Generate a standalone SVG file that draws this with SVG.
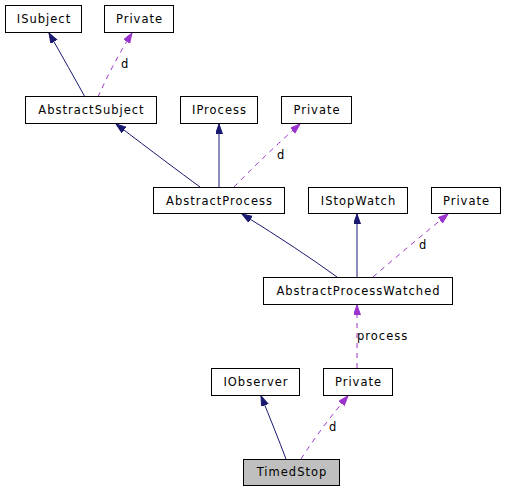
<svg xmlns="http://www.w3.org/2000/svg" width="505" height="491" viewBox="0 0 505 491">
<defs>
<style>
.box{fill:#ffffff;stroke:#000000;stroke-width:1}
.cur{fill:#bfbfbf;stroke:#000000;stroke-width:1}
text{font-family:"DejaVu Sans","Liberation Sans",sans-serif;font-size:11.5px;letter-spacing:1px;fill:#000000}
.t{text-anchor:middle}
.inh{fill:none;stroke:#191970;stroke-width:1}
.use{fill:none;stroke:#9a32cd;stroke-width:1;stroke-dasharray:5,5}
</style>
<marker id="ah" markerUnits="userSpaceOnUse" markerWidth="11" markerHeight="8" refX="10" refY="3.5" orient="auto">
<path d="M0,0 L10,3.5 L0,7 z" fill="#191970" stroke="#191970"/>
</marker>
<marker id="ap" markerUnits="userSpaceOnUse" markerWidth="11" markerHeight="8" refX="10" refY="3.5" orient="auto">
<path d="M0,0 L10,3.5 L0,7 z" fill="#9a32cd" stroke="#9a32cd"/>
</marker>
</defs>
<rect width="505" height="491" fill="#ffffff"/>
<g id="connectors">
<path class="inh" d="M85,97 Q70,70 49,33" marker-end="url(#ah)"/>
<path class="use" d="M98,97 Q112,65 132,33" marker-end="url(#ap)"/>
<text x="121" y="68">d</text>
<path class="inh" d="M200,187 Q170,165 116,124" marker-end="url(#ah)"/>
<path class="inh" d="M219,187 L219,124" marker-end="url(#ah)"/>
<path class="use" d="M234,187 Q265,155 300,124" marker-end="url(#ap)"/>
<text x="277" y="159">d</text>
<path class="inh" d="M337,277 Q300,250 242,214" marker-end="url(#ah)"/>
<path class="inh" d="M357,277 L357,214" marker-end="url(#ah)"/>
<path class="use" d="M373,277 Q410,245 448,214" marker-end="url(#ap)"/>
<text x="419" y="249">d</text>
<path class="use" d="M357,368 L357,305" marker-end="url(#ap)"/>
<text x="357" y="340">process</text>
<path class="inh" d="M286,459 Q275,430 261,396" marker-end="url(#ah)"/>
<path class="use" d="M301,459 Q323,425 348,396" marker-end="url(#ap)"/>
<text x="329" y="431">d</text>
</g>
<g id="ISubject"><rect class="box" x="5.5" y="5.5" width="76" height="27"/><text class="t" x="44" y="22.5">ISubject</text></g>
<g id="Private1"><rect class="box" x="104.5" y="5.5" width="69" height="27"/><text class="t" x="139.5" y="22.5">Private</text></g>
<g id="AbstractSubject"><rect class="box" x="25.5" y="96.5" width="131" height="27"/><text class="t" x="91.5" y="113.5">AbstractSubject</text></g>
<g id="IProcess"><rect class="box" x="180.5" y="96.5" width="77" height="27"/><text class="t" x="219.5" y="113.5">IProcess</text></g>
<g id="Private2"><rect class="box" x="281.5" y="96.5" width="70" height="27"/><text class="t" x="317" y="113.5">Private</text></g>
<g id="AbstractProcess"><rect class="box" x="153.5" y="187.5" width="131" height="26"/><text class="t" x="219.5" y="204.5">AbstractProcess</text></g>
<g id="IStopWatch"><rect class="box" x="308.5" y="187.5" width="99" height="26"/><text class="t" x="358.5" y="204.5">IStopWatch</text></g>
<g id="Private3"><rect class="box" x="431.5" y="187.5" width="69" height="26"/><text class="t" x="466.5" y="204.5">Private</text></g>
<g id="AbstractProcessWatched"><rect class="box" x="263.5" y="277.5" width="189" height="27"/><text class="t" x="358.5" y="295">AbstractProcessWatched</text></g>
<g id="IObserver"><rect class="box" x="211.5" y="368.5" width="88" height="27"/><text class="t" x="256" y="385.5">IObserver</text></g>
<g id="Private4"><rect class="box" x="323.5" y="368.5" width="69" height="27"/><text class="t" x="358.5" y="385.5">Private</text></g>
<g id="TimedStop"><rect class="cur" x="243.5" y="459.5" width="96" height="26"/><text class="t" x="292" y="476">TimedStop</text></g>
</svg>
